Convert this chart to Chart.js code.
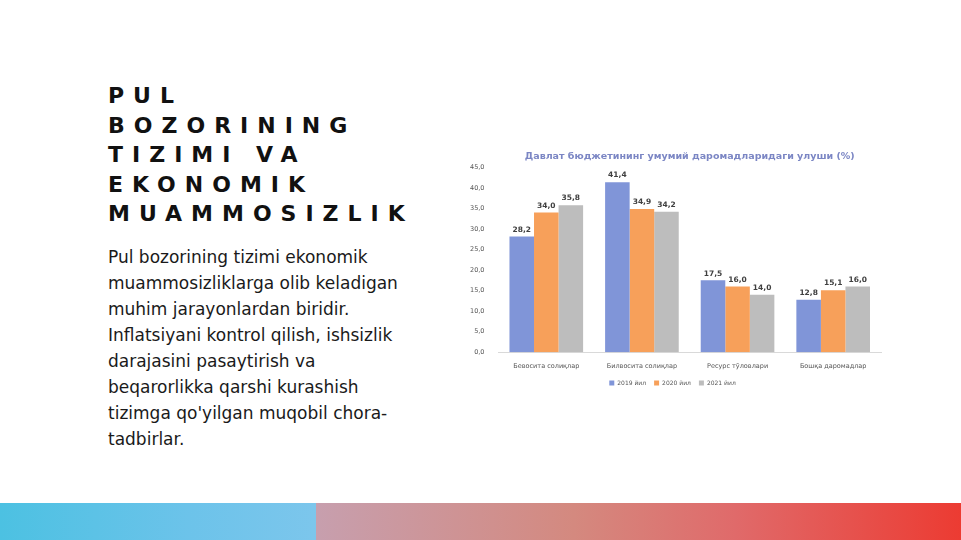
<!DOCTYPE html>
<html>
<head>
<meta charset="utf-8">
<script src="https://cdn.jsdelivr.net/npm/chart.js@4.4.1/dist/chart.umd.min.js"></script>
<style>
  html, body { margin: 0; padding: 0; background: #fff; }
  #slide { position: relative; width: 961px; height: 540px; overflow: hidden; font-family: "DejaVu Sans", sans-serif; }
  #heading {
    position: absolute; left: 108px; top: 81px; margin: 0;
    font-size: 22px; font-weight: bold; letter-spacing: 9px; line-height: 29.5px; color: #111;
  }
  #body {
    position: absolute; left: 108px; top: 244px; width: 315px; margin: 0;
    font-size: 17px; line-height: 26px; color: #1a1a1a;
  }
  #chartBox { position: absolute; left: 460px; top: 146px; width: 425px; height: 250px; }
  #stripeL { position: absolute; left: 0; top: 503px; width: 316px; height: 37px;
    background: linear-gradient(90deg, #4cc1e2, #6cc3ea 60%, #7cc6ec); }
  #stripeR { position: absolute; left: 316px; top: 503px; width: 645px; height: 37px;
    background: linear-gradient(90deg, #c79fae, #d4897f 40%, #e06a6a 65%, #ec3b32); }
</style>
</head>
<body>
<div id="slide">
  <h1 id="heading">PUL<br>BOZORINING<br>TIZIMI VA<br>EKONOMIK<br>MUAMMOSIZLIK</h1>
  <p id="body">Pul bozorining tizimi ekonomik muammosizliklarga olib keladigan muhim jarayonlardan biridir. Inflatsiyani kontrol qilish, ishsizlik darajasini pasaytirish va beqarorlikka qarshi kurashish tizimga qo'yilgan muqobil chora-tadbirlar.</p>
  <div id="chartBox"><canvas id="budgetChart"></canvas></div>
  <div id="stripeL"></div>
  <div id="stripeR"></div>
</div>
<script>
  // chart data
  const categories = ['Бевосита солиқлар', 'Билвосита солиқлар', 'Ресурс тўловлари', 'Бошқа даромадлар'];
  const years = ['2019 йил', '2020 йил', '2021 йил'];
  const values2019 = [28.2, 41.4, 17.5, 12.8];
  const values2020 = [34.0, 34.9, 16.0, 15.1];
  const values2021 = [35.8, 34.2, 14.0, 16.0];
  const yTicks = [0, 5, 10, 15, 20, 25, 30, 35, 40, 45];

  const fmt = v => v.toFixed(1).replace('.', ',');

  // draws value labels above each bar
  const valueLabels = {
    id: 'valueLabels',
    afterDatasetsDraw(chart) {
      const ctx = chart.ctx;
      ctx.save();
      ctx.font = 'bold 7.5px "DejaVu Sans"';
      ctx.fillStyle = '#404040';
      ctx.textAlign = 'center';
      ctx.textBaseline = 'bottom';
      chart.data.datasets.forEach((ds, i) => {
        chart.getDatasetMeta(i).data.forEach((bar, j) => {
          ctx.fillText(fmt(ds.data[j]), bar.x, bar.y - 3);
        });
      });
      ctx.restore();
    }
  };

  new Chart(document.getElementById('budgetChart').getContext('2d'), {
    type: 'bar',
    data: {
      labels: categories,
      datasets: [
        { label: years[0], data: values2019, backgroundColor: '#8095d8' },
        { label: years[1], data: values2020, backgroundColor: '#f7a05a' },
        { label: years[2], data: values2021, backgroundColor: '#bdbdbd' }
      ]
    },
    options: {
      responsive: true,
      maintainAspectRatio: false,
      animation: false,
      layout: { padding: { left: 4, right: 4, top: 0, bottom: 0 } },
      datasets: { bar: { categoryPercentage: 0.77, barPercentage: 1.0 } },
      plugins: {
        title: {
          display: true,
          fullSize: false,
          text: 'Давлат бюджетининг умумий даромадларидаги улуши (%)',
          color: '#7b86c4',
          font: { family: 'DejaVu Sans', size: 9.5, weight: 'bold' },
          padding: { top: 5, bottom: 5 }
        },
        legend: {
          position: 'bottom',
          labels: {
            boxWidth: 5, boxHeight: 5, padding: 8,
            color: '#555', font: { family: 'DejaVu Sans', size: 6 }
          }
        },
        tooltip: { enabled: false }
      },
      scales: {
        x: {
          grid: { display: false },
          border: { color: '#d9d9d9' },
          ticks: { color: '#555', font: { family: 'DejaVu Sans', size: 6.5 }, maxRotation: 0, padding: 2 }
        },
        y: {
          min: 0, max: 45,
          afterBuildTicks: axis => { axis.ticks = yTicks.map(v => ({ value: v })); },
          grid: { display: false },
          border: { display: false },
          ticks: { color: '#555', font: { family: 'DejaVu Sans', size: 6.5 }, callback: v => fmt(v), padding: 6 }
        }
      }
    },
    plugins: [valueLabels]
  });
</script>
</body>
</html>
